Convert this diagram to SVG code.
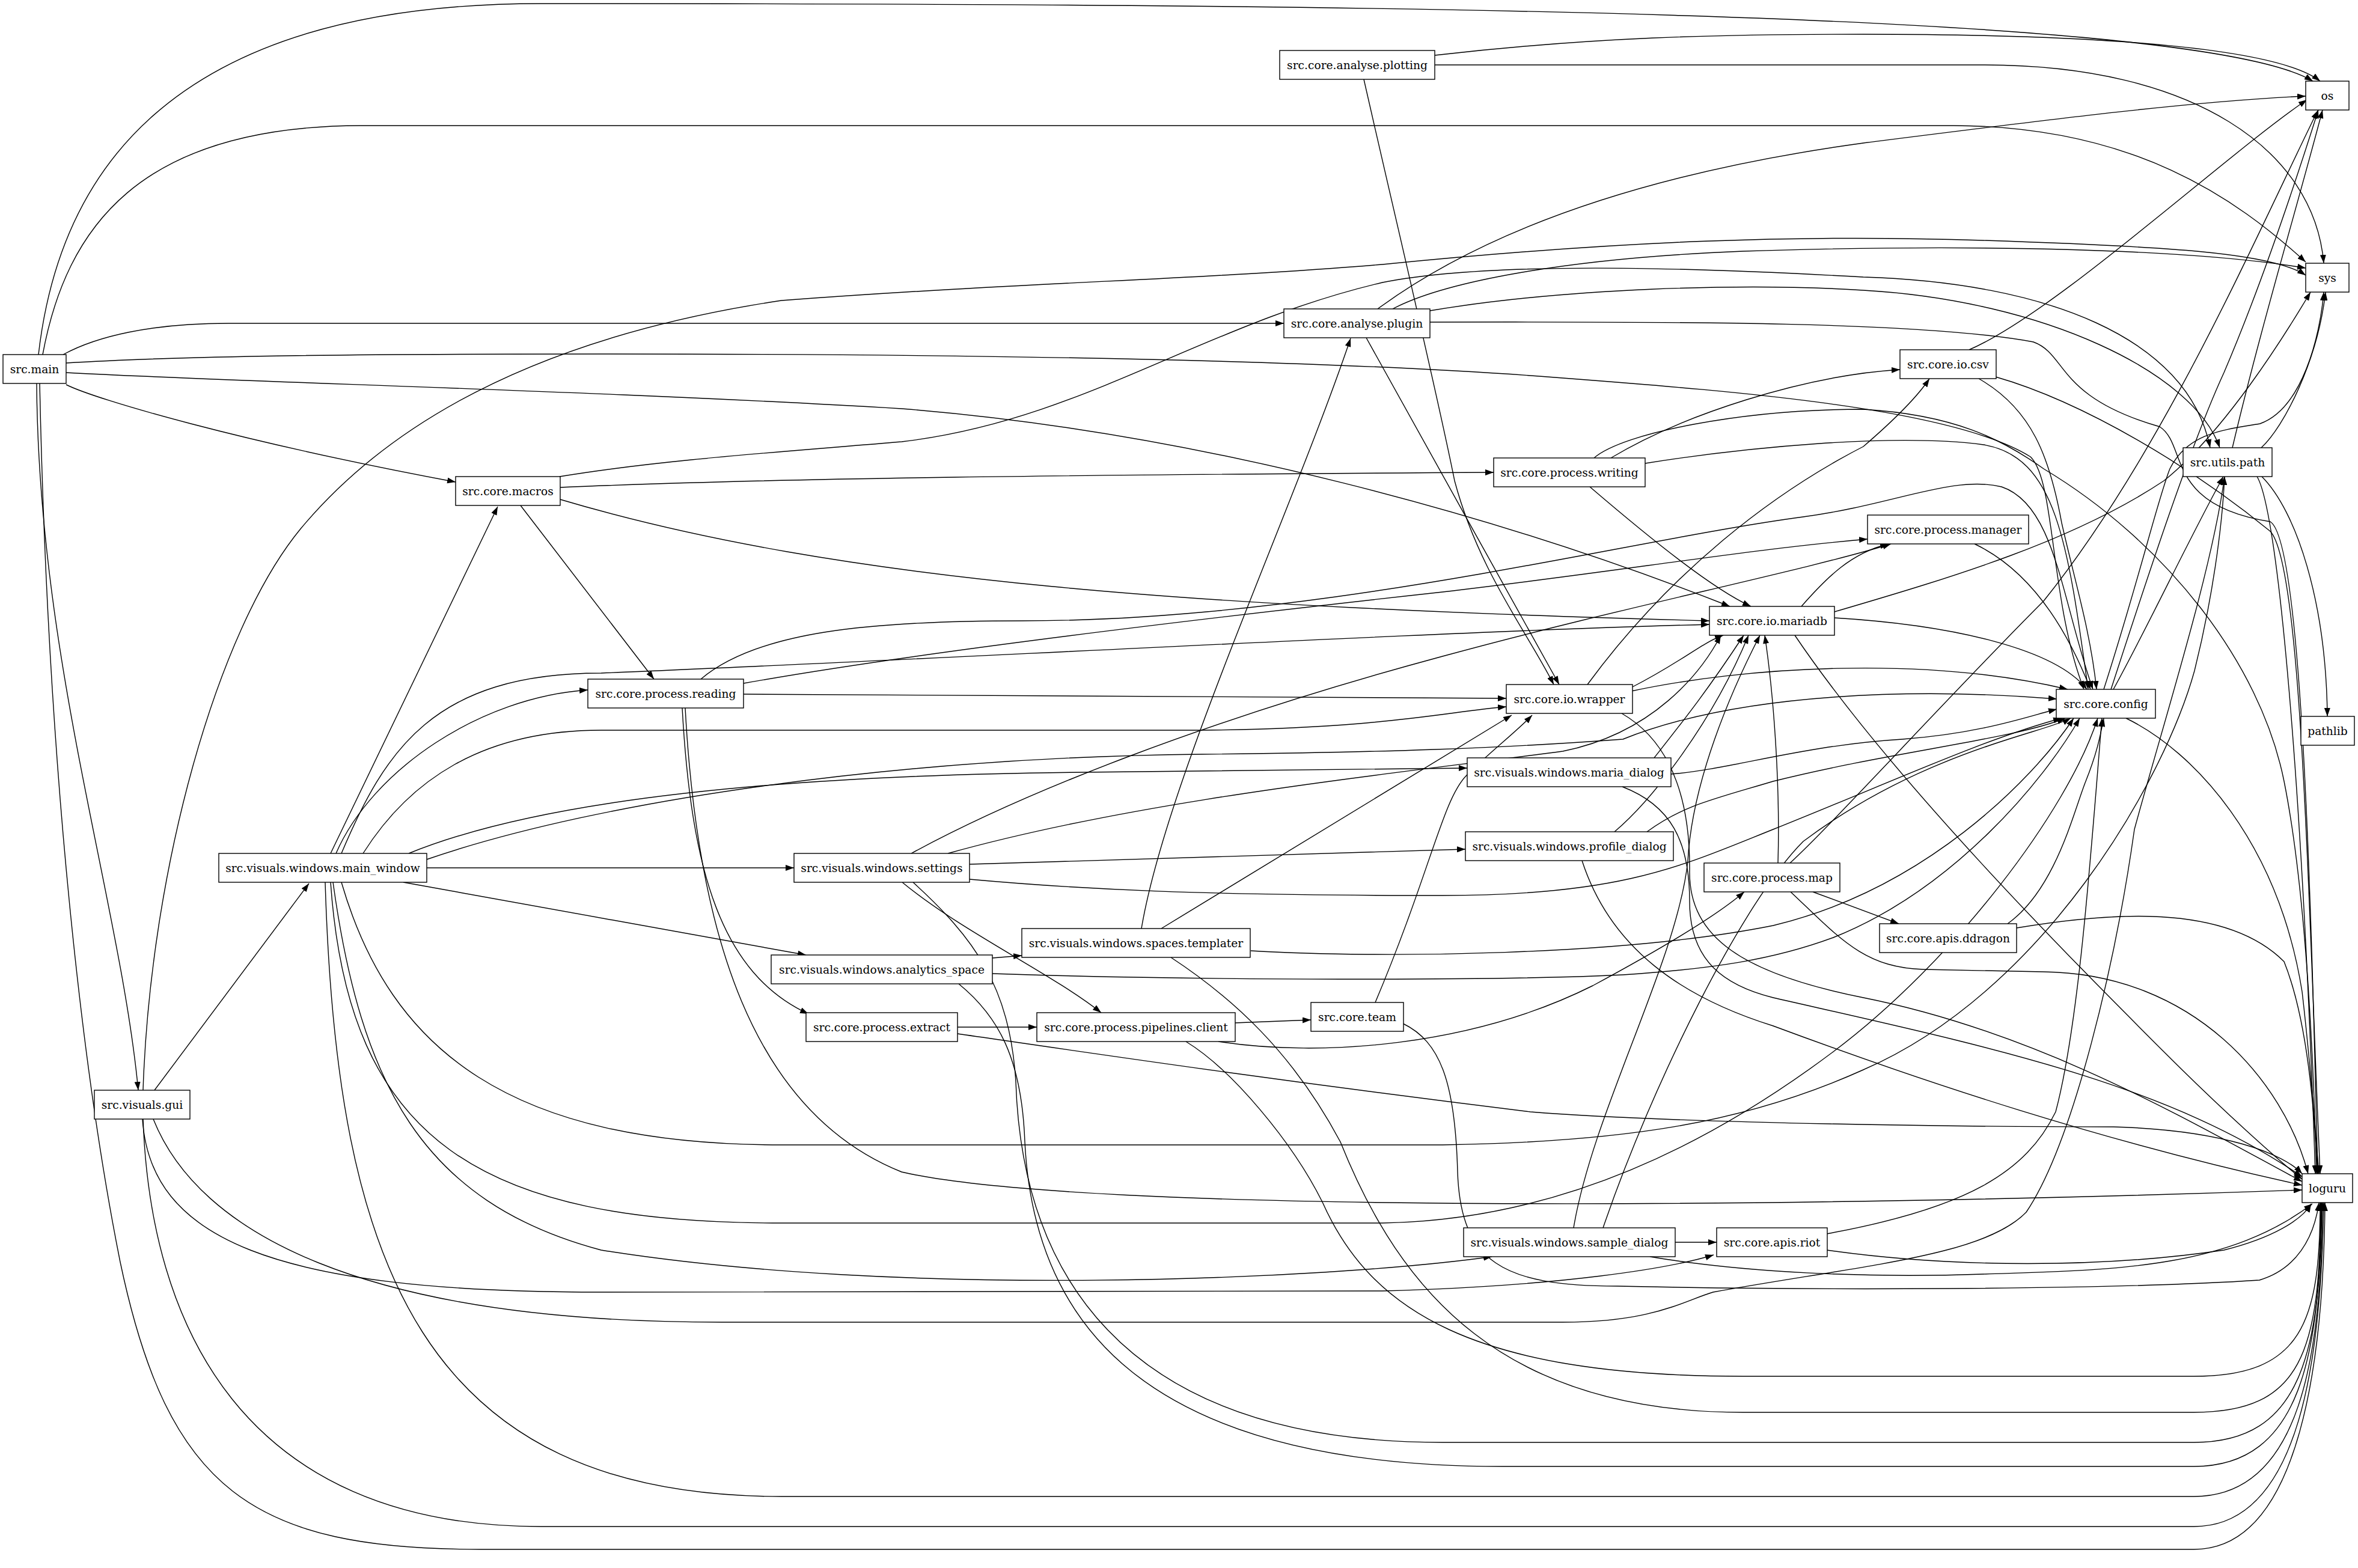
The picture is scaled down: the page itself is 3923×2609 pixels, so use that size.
<svg xmlns="http://www.w3.org/2000/svg" width="3923" height="2609" viewBox="0 0 3923 2609">
<style>
.n rect{fill:#fff;stroke:#000;stroke-width:1.4}
.n text{font-family:"DejaVu Serif","Liberation Serif",serif;font-size:18.67px;text-anchor:middle;fill:#000}
#edges path{fill:none;stroke:#000;stroke-width:1.4;marker-end:url(#ah)}
</style>
<defs>
<marker id="ah" markerUnits="userSpaceOnUse" viewBox="0 0 14 10" refX="14" refY="5" markerWidth="14" markerHeight="10" orient="auto"><path d="M0,0 L14,5 L0,10 z" fill="#000"/></marker>
</defs>
<rect width="3923" height="2609" fill="#fff"/>
<g id="edges">
<path d="M64,590 C95,320 250,6 900,6 C2200,6 3650,15 3848,135"/>
<path d="M2387,92 C2650,62 2850,57 3100,57 C3500,57 3790,80 3860,135"/>
<path d="M71,590 C110,380 230,210 600,209 L3250,209 C3550,210 3720,330 3836,436"/>
<path d="M2387,108 L3300,108 C3650,108 3850,250 3866,438"/>
<path d="M105,590 C160,560 250,538 380,538 L2136,538"/>
<path d="M110,604 C300,592 600,589 1000,589 C1800,589 2300,605 2600,629 C2900,652 3250,680 3378,760 C3420,800 3410,1000 3467,1147"/>
<path d="M110,620 C400,636 1000,650 1500,680 C2000,720 2500,860 2878,1009"/>
<path d="M110,640 C160,665 400,735 758,802"/>
<path d="M61,638 C64,1100 200,1500 230,1814"/>
<path d="M66,638 C80,1300 140,1800 200,2100 C280,2480 420,2578 800,2578 L3650,2578 C3830,2578 3866,2250 3868,2001"/>
<path d="M2269,132 C2330,400 2390,650 2420,800 C2460,950 2540,1050 2585,1139"/>
<path d="M2292,514 C2420,420 2650,300 3100,238 C3400,200 3650,168 3836,160"/>
<path d="M2317,514 C2400,470 2600,430 2900,418 C3300,405 3650,415 3836,446"/>
<path d="M2379,517 C2600,480 2900,470 3100,483 C3400,500 3650,620 3693,745"/>
<path d="M2379,536 C2800,535 3200,535 3383,569 C3440,590 3420,660 3593,710 C3640,740 3600,840 3777,868 C3830,900 3845,1500 3856,1953"/>
<path d="M2273,562 C2310,629 2500,970 2594,1139"/>
<path d="M3276,582 C3420,520 3700,260 3838,166"/>
<path d="M3292,630 C3380,680 3410,760 3430,870 C3450,960 3478,1050 3488,1147"/>
<path d="M3320,627 C3470,670 3650,780 3777,884 C3830,940 3840,1500 3860,1953"/>
<path d="M3714,745 C3760,550 3820,350 3864,183"/>
<path d="M3762,745 C3800,710 3856,600 3869,486"/>
<path d="M3763,793 C3820,850 3870,1000 3872,1192"/>
<path d="M3755,793 C3790,850 3830,1300 3852,1953"/>
<path d="M3512,1147 C3560,1000 3640,750 3700,620 C3760,480 3820,300 3857,183"/>
<path d="M3500,1147 C3560,960 3590,830 3610,780 C3640,720 3700,715 3760,705 C3830,680 3860,560 3866,486"/>
<path d="M3516,1147 C3580,1030 3640,900 3699,793"/>
<path d="M3537,1195 C3650,1250 3790,1400 3830,1650 C3845,1780 3852,1880 3858,1953"/>
<path d="M3285,905 C3380,950 3440,1050 3478,1147"/>
<path d="M2997,1009 C3040,960 3080,920 3142,905"/>
<path d="M3052,1018 C3250,960 3450,900 3600,800 C3700,720 3800,560 3844,486"/>
<path d="M3052,1028 C3250,1040 3420,1080 3472,1147"/>
<path d="M2986,1057 C3150,1300 3450,1600 3600,1750 C3700,1850 3790,1930 3830,1962"/>
<path d="M2641,1139 C2780,950 2950,820 3100,743 C3150,700 3190,660 3210,630"/>
<path d="M2714,1144 C2800,1100 2830,1070 2867,1057"/>
<path d="M2714,1150 C2900,1110 3200,1090 3440,1147"/>
<path d="M2698,1187 C2790,1240 2812,1350 2811,1450 C2810,1560 2900,1620 3100,1660 C3400,1720 3650,1870 3830,1966"/>
<path d="M2680,762 C2800,690 3000,625 3161,615"/>
<path d="M2737,771 C2900,745 3150,720 3300,740 C3420,760 3440,900 3474,1147"/>
<path d="M2645,810 C2750,900 2850,980 2913,1009"/>
<path d="M2652,762 C2700,720 2900,681 3100,681 C3250,690 3330,730 3400,780 C3600,900 3760,1100 3800,1300 C3840,1500 3850,1800 3854,1953"/>
<path d="M932,811 C1300,795 1800,790 2485,786"/>
<path d="M932,831 C1400,970 2000,1010 2844,1033"/>
<path d="M866,841 L1088,1130"/>
<path d="M931,793 C1100,765 1300,752 1500,735 C1800,700 2000,540 2300,470 C2500,430 2900,450 3100,461 C3400,470 3640,560 3677,745"/>
<path d="M1237,1155 L2506,1162"/>
<path d="M1237,1137 C1500,1090 1900,1040 2400,985 C2700,950 2900,915 3107,897"/>
<path d="M1166,1130 C1260,1050 1450,1033 1700,1033 C2200,1033 2700,900 3000,860 C3150,840 3250,790 3330,810 C3420,840 3430,1000 3482,1147"/>
<path d="M1135,1178 C1150,1450 1200,1620 1345,1687"/>
<path d="M1140,1178 C1160,1550 1250,1850 1500,1950 C1800,2020 3000,2010 3830,1980"/>
<path d="M550,1420 L828,843"/>
<path d="M559,1420 C620,1280 800,1160 978,1148"/>
<path d="M568,1420 C640,1250 720,1120 1000,1120 C1500,1100 2400,1050 2844,1039"/>
<path d="M604,1420 C680,1300 800,1215 1000,1215 L2000,1215 C2300,1212 2400,1185 2506,1176"/>
<path d="M680,1420 C900,1330 1300,1290 1800,1285 C2100,1282 2300,1278 2441,1278"/>
<path d="M710,1430 C1000,1330 1500,1260 2000,1255 C2300,1252 2500,1245 2700,1230 C2900,1150 3200,1145 3422,1163"/>
<path d="M710,1444 L1321,1444"/>
<path d="M671,1468 L1341,1589"/>
<path d="M554,1468 C600,1800 700,2000 1000,2080 C1500,2160 2200,2130 2482,2091"/>
<path d="M541,1468 C560,2100 700,2490 1300,2490 L3650,2490 C3830,2490 3862,2250 3864,2001"/>
<path d="M568,1468 C650,1750 850,1905 1300,1905 L2400,1905 C2700,1900 2900,1870 3100,1780 C3400,1650 3600,1300 3651,1116 C3680,1000 3697,880 3701,793"/>
<path d="M550,1468 C580,1900 800,2035 1300,2035 L2300,2035 C2600,2030 2850,1900 3050,1750 C3250,1600 3440,1350 3490,1195"/>
<path d="M257,1814 L514,1470"/>
<path d="M238,1814 C250,1450 360,1050 500,880 C650,700 900,560 1300,500 C1700,470 2000,465 2300,440 C2700,400 3000,390 3300,400 C3600,410 3780,420 3836,458"/>
<path d="M238,1862 C250,2200 400,2540 900,2540 L3650,2540 C3830,2540 3862,2250 3866,2001"/>
<path d="M237,1862 C250,2060 450,2150 1000,2150 L2300,2148 C2600,2140 2780,2110 2851,2088"/>
<path d="M255,1862 C330,2050 600,2200 1200,2200 L2600,2200 C2750,2200 2800,2165 2850,2150 C3100,2105 3300,2090 3371,2017 C3450,1900 3520,1600 3551,1380 C3600,1200 3680,950 3701,793"/>
<path d="M1516,1420 C1700,1320 2000,1200 2400,1092 C2700,1010 3000,950 3146,905"/>
<path d="M1577,1420 C1900,1330 2300,1290 2600,1250 C2750,1220 2830,1120 2863,1057"/>
<path d="M1613,1438 C1900,1430 2200,1418 2438,1413"/>
<path d="M1613,1463 C1800,1480 2000,1490 2400,1490 C2700,1490 2800,1440 2950,1380 C3150,1300 3300,1230 3430,1195"/>
<path d="M1501,1468 C1600,1550 1750,1620 1832,1685"/>
<path d="M1519,1468 C1620,1560 1680,1640 1690,1800 C1700,2100 1850,2400 2400,2400 L3650,2400 C3830,2400 3860,2250 3863,2001"/>
<path d="M1651,1594 L1700,1590"/>
<path d="M1651,1620 C2000,1632 2500,1632 2700,1622 C2850,1612 2950,1597 3050,1560 C3250,1480 3400,1300 3460,1195"/>
<path d="M1595,1637 C1660,1690 1700,1760 1705,1900 C1720,2200 1900,2440 2500,2440 L3650,2440 C3830,2440 3860,2250 3862,2001"/>
<path d="M1593,1709 L1725,1709"/>
<path d="M1593,1720 C1800,1750 2100,1795 2546,1850 C2800,1870 3300,1875 3516,1875 C3700,1880 3800,1920 3830,1953"/>
<path d="M1899,1545 C1940,1300 2150,850 2247,563"/>
<path d="M1932,1545 L2515,1190"/>
<path d="M2081,1582 C2300,1595 2700,1590 2950,1540 C3200,1480 3380,1300 3450,1195"/>
<path d="M1948,1593 C2050,1660 2150,1750 2230,1900 C2330,2150 2500,2350 2900,2350 L3650,2350 C3830,2350 3860,2250 3861,2001"/>
<path d="M2054,1702 L2181,1697"/>
<path d="M2027,1733 C2200,1760 2450,1740 2650,1640 C2780,1570 2860,1520 2902,1484"/>
<path d="M1973,1733 C2050,1780 2150,1900 2200,2000 C2280,2180 2450,2290 2900,2290 L3650,2290 C3830,2290 3860,2200 3860,2001"/>
<path d="M2288,1668 C2380,1450 2400,1330 2440,1290 C2480,1250 2520,1220 2549,1190"/>
<path d="M2334,1703 C2396,1733 2421,1800 2425,1950 C2430,2100 2500,2140 2691,2140 C3000,2147 3500,2147 3759,2130 C3820,2112 3850,2060 3858,2001"/>
<path d="M2752,1261 C2800,1200 2840,1150 2901,1057"/>
<path d="M2780,1288 C2880,1280 3000,1240 3165,1230 C3300,1220 3380,1190 3422,1180"/>
<path d="M2699,1309 C2780,1340 2811,1400 2811,1500 C2811,1600 2870,1640 2950,1660 C3300,1740 3600,1800 3830,1958"/>
<path d="M2686,1384 C2750,1330 2850,1200 2909,1057"/>
<path d="M2740,1384 C2800,1340 2850,1330 2950,1300 C3150,1250 3350,1230 3436,1195"/>
<path d="M2632,1432 C2680,1580 2800,1660 2950,1707 C3200,1800 3500,1900 3830,1972"/>
<path d="M2787,2067 L2856,2067"/>
<path d="M2618,2043 C2650,1850 2790,1600 2808,1433 C2815,1300 2880,1150 2928,1057"/>
<path d="M2667,2043 C2750,1800 2900,1500 3000,1400 C3200,1250 3400,1220 3445,1195"/>
<path d="M2745,2091 C2900,2117 3100,2127 3300,2120 C3500,2113 3700,2115 3847,2003"/>
<path d="M3039,2053 C3274,2010 3371,1950 3420,1850 C3460,1700 3480,1400 3497,1195"/>
<path d="M3039,2080 C3250,2110 3500,2110 3700,2080 C3780,2060 3830,2030 3845,2003"/>
<path d="M3016,1484 L3159,1537"/>
<path d="M2978,1436 C3050,1370 3250,1150 3400,1000 C3600,750 3750,400 3856,184"/>
<path d="M2958,1436 C2962,1300 2950,1150 2936,1057"/>
<path d="M2979,1484 C3060,1560 3100,1610 3200,1613 L3400,1617 C3650,1620 3800,1800 3840,1953"/>
<path d="M3340,1537 C3420,1480 3450,1350 3470,1300 C3490,1250 3495,1220 3500,1195"/>
<path d="M3355,1544 C3500,1520 3700,1500 3800,1600 C3840,1700 3850,1850 3856,1953"/>
</g>
<g id="src.main" class="n"><rect x="5" y="590" width="105" height="48"/><text x="57.5" y="620.5">src.main</text></g>
<g id="src.visuals.gui" class="n"><rect x="157" y="1814" width="159" height="48"/><text x="236.5" y="1844.5">src.visuals.gui</text></g>
<g id="src.visuals.windows.main_window" class="n"><rect x="364" y="1420" width="346" height="48"/><text x="537" y="1450.5">src.visuals.windows.main_window</text></g>
<g id="src.core.macros" class="n"><rect x="758" y="793" width="174" height="48"/><text x="845" y="823.5">src.core.macros</text></g>
<g id="src.core.process.reading" class="n"><rect x="978" y="1130" width="259" height="48"/><text x="1107.5" y="1160.5">src.core.process.reading</text></g>
<g id="src.visuals.windows.settings" class="n"><rect x="1321" y="1420" width="292" height="48"/><text x="1467" y="1450.5">src.visuals.windows.settings</text></g>
<g id="src.visuals.windows.analytics_space" class="n"><rect x="1283" y="1589" width="368" height="48"/><text x="1467" y="1619.5">src.visuals.windows.analytics_space</text></g>
<g id="src.core.process.extract" class="n"><rect x="1341" y="1685" width="252" height="48"/><text x="1467" y="1715.5">src.core.process.extract</text></g>
<g id="src.visuals.windows.spaces.templater" class="n"><rect x="1700" y="1545" width="380" height="48"/><text x="1890" y="1575.5">src.visuals.windows.spaces.templater</text></g>
<g id="src.core.process.pipelines.client" class="n"><rect x="1725" y="1685" width="330" height="48"/><text x="1890" y="1715.5">src.core.process.pipelines.client</text></g>
<g id="src.core.analyse.plotting" class="n"><rect x="2129" y="84" width="258" height="48"/><text x="2258" y="114.5">src.core.analyse.plotting</text></g>
<g id="src.core.analyse.plugin" class="n"><rect x="2136" y="514" width="243" height="48"/><text x="2257.5" y="544.5">src.core.analyse.plugin</text></g>
<g id="src.core.team" class="n"><rect x="2181" y="1668" width="154" height="48"/><text x="2258" y="1698.5">src.core.team</text></g>
<g id="src.core.process.writing" class="n"><rect x="2485" y="762" width="252" height="48"/><text x="2611" y="792.5">src.core.process.writing</text></g>
<g id="src.core.io.wrapper" class="n"><rect x="2506" y="1139" width="210" height="48"/><text x="2611" y="1169.5">src.core.io.wrapper</text></g>
<g id="src.visuals.windows.maria_dialog" class="n"><rect x="2441" y="1261" width="339" height="48"/><text x="2610.5" y="1291.5">src.visuals.windows.maria_dialog</text></g>
<g id="src.visuals.windows.profile_dialog" class="n"><rect x="2438" y="1384" width="346" height="48"/><text x="2611" y="1414.5">src.visuals.windows.profile_dialog</text></g>
<g id="src.visuals.windows.sample_dialog" class="n"><rect x="2435" y="2043" width="352" height="48"/><text x="2611" y="2073.5">src.visuals.windows.sample_dialog</text></g>
<g id="src.core.io.mariadb" class="n"><rect x="2844" y="1009" width="208" height="48"/><text x="2948" y="1039.5">src.core.io.mariadb</text></g>
<g id="src.core.process.map" class="n"><rect x="2835" y="1436" width="226" height="48"/><text x="2948" y="1466.5">src.core.process.map</text></g>
<g id="src.core.apis.riot" class="n"><rect x="2856" y="2043" width="184" height="48"/><text x="2948" y="2073.5">src.core.apis.riot</text></g>
<g id="src.core.io.csv" class="n"><rect x="3161" y="582" width="160" height="48"/><text x="3241" y="612.5">src.core.io.csv</text></g>
<g id="src.core.process.manager" class="n"><rect x="3107" y="857" width="268" height="48"/><text x="3241" y="887.5">src.core.process.manager</text></g>
<g id="src.core.apis.ddragon" class="n"><rect x="3127" y="1537" width="228" height="48"/><text x="3241" y="1567.5">src.core.apis.ddragon</text></g>
<g id="src.core.config" class="n"><rect x="3421" y="1147" width="165" height="48"/><text x="3503.5" y="1177.5">src.core.config</text></g>
<g id="src.utils.path" class="n"><rect x="3632" y="745" width="148" height="48"/><text x="3706" y="775.5">src.utils.path</text></g>
<g id="os" class="n"><rect x="3836" y="135" width="72" height="48"/><text x="3872" y="165.5">os</text></g>
<g id="sys" class="n"><rect x="3836" y="438" width="72" height="48"/><text x="3872" y="468.5">sys</text></g>
<g id="pathlib" class="n"><rect x="3828" y="1192" width="89" height="48"/><text x="3872.5" y="1222.5">pathlib</text></g>
<g id="loguru" class="n"><rect x="3830" y="1953" width="84" height="48"/><text x="3872" y="1983.5">loguru</text></g>
</svg>
